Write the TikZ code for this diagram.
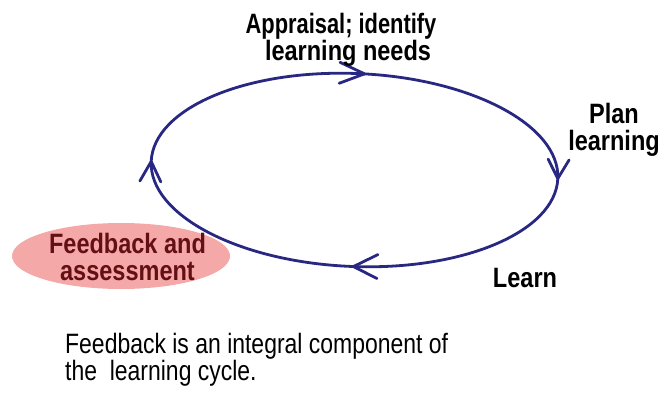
\documentclass[tikz,border=0pt]{standalone}
\usepackage{fontspec}
\usetikzlibrary{shapes.geometric}
\setmainfont{Liberation Sans}[FakeStretch=0.82]
\newfontfamily\labfont{Liberation Sans}[FakeStretch=0.84]
\definecolor{navy}{RGB}{40,40,130}
\definecolor{pinkfill}{RGB}{245,168,168}
\definecolor{darkred}{RGB}{100,15,20}
\begin{document}
\begin{tikzpicture}[x=1pt,y=-1pt,
  loopline/.style={draw=navy,line width=2.8pt,line cap=round,line join=round},
  lbl/.style={font={\labfont\bfseries\fontsize{28}{27}\selectfont},inner sep=0pt,align=center,anchor=base},
  notetext/.style={font={\fontsize{28}{27}\selectfont},inner sep=0pt,align=left,anchor=base west},
  fbshape/.style={ellipse,fill=pinkfill,minimum width=218pt,minimum height=66pt,inner sep=0pt}]
\useasboundingbox (0,0) rectangle (662,394);
\node[fbshape] (fb) at (121,256) {};
\begin{scope}[shift={(354.5,170)},rotate=-2.4]
  \coordinate (c) at (0,0);
  \draw[loopline] (c) ellipse [x radius=203.5pt, y radius=96.5pt];
  % left arrowhead (up)
  \draw[loopline] (-214,20) -- (-203.5,0) -- (-193,20);
  % right arrowhead (down)
  \draw[loopline] (193,-19) -- (203.5,0) -- (214,-19);
  % top arrowhead (right)
  \draw[loopline] (-19,-107) -- (6,-96.5) -- (-19,-86);
  % bottom arrowhead (left)
  \draw[loopline] (27,83.5) -- (3,96.5) -- (27,107.5);
\end{scope}
\node[lbl] (app) at (348,60) {\scalebox{0.93}[1]{Appraisal; identify}\hspace*{14pt}\\learning needs};
\node[lbl] (plan) at (614,150) {Plan\\learning};
\node[lbl] (learn) at (525,287) {Learn};
\node[lbl,text=darkred] (fbtext) at (127.5,280) {Feedback and\\assessment};
\node[notetext] (note) at (65,380) {Feedback is an integral component of\\the\ \ learning cycle.};
\end{tikzpicture}
\end{document}
